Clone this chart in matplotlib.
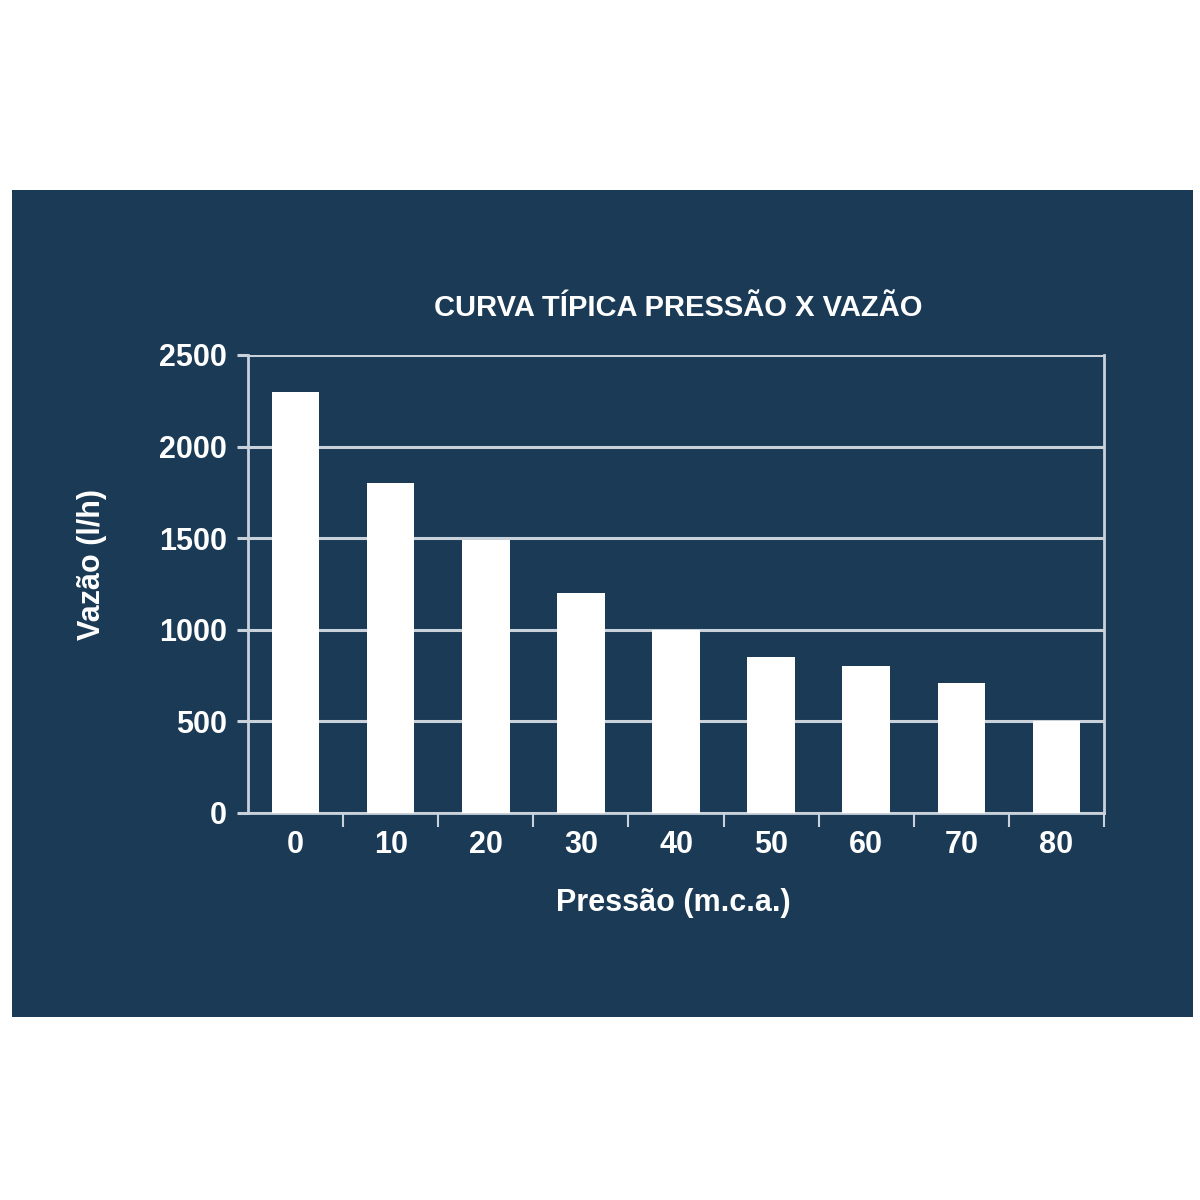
import matplotlib
matplotlib.use("Agg")
import matplotlib.pyplot as plt
from matplotlib.patches import Rectangle
from matplotlib.ticker import MultipleLocator, FixedLocator
import numpy as np

plt.rcParams['font.family'] = ['Liberation Sans', 'DejaVu Sans']
plt.rcParams['font.weight'] = 'bold'

pressao = ['0', '10', '20', '30', '40', '50', '60', '70', '80']
vazao = [2300, 1800, 1490, 1200, 1000, 850, 800, 710, 500]

navy = '#1a3a56'
grid_c = '#c9d2db'

fig = plt.figure(figsize=(12, 12), dpi=100, facecolor='white')
# dark panel behind the chart
fig.patches.append(Rectangle((12/1200, 1 - 1017/1200), 1181/1200, 827/1200,
                             transform=fig.transFigure, facecolor=navy,
                             edgecolor='none', zorder=-5))

ax = fig.add_axes([248/1200, 1 - 813/1200, 856/1200, 458/1200])
ax.set_facecolor(navy)

x = np.arange(len(pressao))
ax.bar(x, vazao, width=0.5, color='white', zorder=3)

ax.set_xlim(-0.5, len(pressao) - 0.5)
ax.set_ylim(0, 2500)
ax.yaxis.set_major_locator(MultipleLocator(500))
ax.grid(axis='y', color=grid_c, linewidth=2.2, zorder=1)
ax.set_axisbelow(True)

ax.set_xticks(x)
ax.set_xticklabels(pressao)
ax.xaxis.set_minor_locator(FixedLocator(np.arange(0.5, len(pressao), 1)))
ax.tick_params(axis='x', which='major', length=0, pad=12, labelsize=22, labelcolor='white')
ax.tick_params(axis='x', which='minor', length=10, width=1.5, color=grid_c)
ax.tick_params(axis='y', which='major', length=8, width=2.2, color=grid_c, pad=7,
               labelsize=22, labelcolor='white')

for s in ['left', 'bottom', 'right']:
    ax.spines[s].set_color(grid_c)
    ax.spines[s].set_linewidth(2)
ax.spines['top'].set_visible(False)

fig.text(678/1200, 1 - 308/1200, 'CURVA TÍPICA PRESSÃO X VAZÃO', color='white',
         fontsize=21, fontweight='bold', ha='center', va='center')
fig.text(92/1200, 1 - 565/1200, 'Vazão (l/h)', color='white', fontsize=22,
         fontweight='bold', ha='center', va='center', rotation=90)
fig.text(673/1200, 1 - 903/1200, 'Pressão (m.c.a.)', color='white', fontsize=22,
         fontweight='bold', ha='center', va='center')

fig.savefig('out.png', dpi=100, facecolor='white')
